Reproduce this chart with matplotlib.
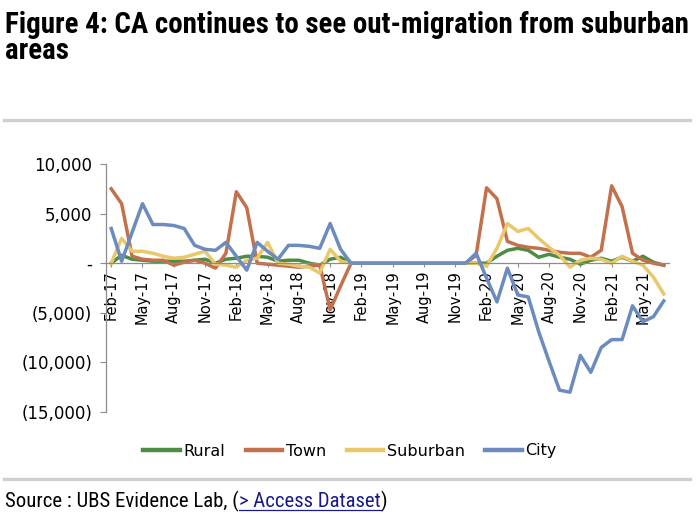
import matplotlib.pyplot as plt
from matplotlib.ticker import FuncFormatter
from matplotlib.lines import Line2D
from matplotlib import font_manager
import numpy as np

# monthly net migration, Feb-17 .. Jul-21
rural = [0, 800, 400, 300, 200, 200, 200, 200, 300, 400, 0, 400,
         500, 700, 700, 600, 200, 300, 300, 0, -200, 400, 600, 0,
         0, 0, 0, 0, 0, 0, 0, 0, 0, 0, 0, 0,
         0, 700, 1300, 1500, 1300, 600, 900, 600, 400, -100, 300, 500,
         200, 600, 200, 700, 100, -200]
town = [7500, 6000, 700, 400, 300, 300, -200, 100, 300, 0, -500, 1000,
        7200, 5600, 0, -100, -200, -300, -400, -300, -200, -4700, -2300, 0,
        0, 0, 0, 0, 0, 0, 0, 0, 0, 0, 0, 800,
        7600, 6500, 2200, 1800, 1600, 1500, 1300, 1100, 1000, 1000, 600, 1300,
        7800, 5700, 1000, 300, 0, -200]
suburban = [0, 2500, 1200, 1200, 1000, 700, 500, 600, 900, 1200, -100, -200,
            -400, 300, 500, 2100, 0, -100, -300, -400, -1000, 1400, 200, 0,
            0, 0, 0, 0, 0, 0, 0, 0, 0, 0, 0, 0,
            -300, 1500, 4000, 3200, 3500, 2500, 1600, 800, -400, 300, 500, 400,
            0, 700, 200, -200, -1400, -3100]
city = [3500, 200, 3100, 6000, 3900, 3900, 3800, 3500, 1800, 1400, 1300, 2100,
        700, -700, 2100, 1200, 400, 1800, 1800, 1700, 1500, 4000, 1400, 0,
        0, 0, 0, 0, 0, 0, 0, 0, 0, 0, 0, 1000,
        -1500, -3900, -500, -3200, -3400, -6900, -9900, -12800, -13000, -9300, -11000, -8500,
        -7700, -7700, -4300, -5900, -5400, -3800]
tick_labels = ["Feb-17", "May-17", "Aug-17", "Nov-17", "Feb-18", "May-18",
               "Aug-18", "Nov-18", "Feb-19", "May-19", "Aug-19", "Nov-19",
               "Feb-20", "May-20", "Aug-20", "Nov-20", "Feb-21", "May-21"]

# pick a narrow font for title / source if one is installed
names = {f.name for f in font_manager.fontManager.ttflist}
narrow = "Liberation Sans"
for n in ["Roboto Condensed", "Liberation Sans Narrow", "Open Sans Condensed"]:
    if n in names:
        narrow = n
        break

W, H = 700, 525
fig = plt.figure(figsize=(7, 5.25), dpi=100)
ax = fig.add_axes([106 / W, 1 - 412 / H, 563 / W, 248 / H])

x = np.arange(len(city))
ax.plot(x, rural, color="#4E8B45", lw=2.5, label="Rural")
ax.plot(x, town, color="#C3704D", lw=2.5, label="Town")
ax.plot(x, suburban, color="#E8C86A", lw=2.5, label="Suburban")
ax.plot(x, city, color="#6C8BBE", lw=2.5, label="City")

ax.set_xlim(-0.5, len(city) - 0.5)
ax.set_ylim(-15000, 10000)

for s in ["top", "right"]:
    ax.spines[s].set_visible(False)
ax.spines["bottom"].set_position(("data", 0))
for s in ["left", "bottom"]:
    ax.spines[s].set_color("#8c8c8c")
    ax.spines[s].set_linewidth(0.9)


def fmt(v, pos):
    if v == 0:
        return "-"
    if v < 0:
        return "({:,.0f})".format(-v)
    return "{:,.0f}".format(v)


ax.set_yticks(np.arange(-15000, 10001, 5000))
ax.yaxis.set_major_formatter(FuncFormatter(fmt))
ax.set_xticks(np.arange(0, len(city), 3))
ax.set_xticklabels(tick_labels)
ax.tick_params(axis="y", labelsize=12, length=4, color="#8c8c8c", pad=6)
ax.tick_params(axis="x", labelsize=10.5, length=3, color="#8c8c8c", pad=2,
               labelrotation=90)
ax.set_facecolor("none")

leg = fig.legend(loc="center", bbox_to_anchor=(0.5, 1 - 451 / H), ncol=4, frameon=False,
                 fontsize=11.5, handlelength=2.3, handletextpad=0.2, columnspacing=1.3)
for h in leg.get_lines():
    h.set_linewidth(3.2)

fig.canvas.draw()
r = fig.canvas.get_renderer()

# title, scaled to span the same width as the reference
t1 = fig.text(5 / W, 1 - 33 / H, "Figure 4: CA continues to see out-migration from suburban",
              fontsize=16, fontweight="bold", family=narrow, va="baseline")
size = 16 * 685 / t1.get_window_extent(r).width
t1.set_fontsize(size)
fig.text(5 / W, 1 - 59 / H, "areas", fontsize=size, fontweight="bold",
         family=narrow, va="baseline")

# horizontal rules
for yy in [120, 479]:
    fig.add_artist(Line2D([4 / W, 690 / W], [1 - yy / H] * 2, color="#cfcfcf",
                          lw=2.4, transform=fig.transFigure))

# source line
probe = fig.text(0, 0, "Source : UBS Evidence Lab, (> Access Dataset)", fontsize=13,
                 family=narrow)
ssize = 13 * 380 / probe.get_window_extent(r).width
probe.remove()
src = fig.text(5 / W, 1 - 507 / H, "Source : UBS Evidence Lab, (", fontsize=ssize,
               family=narrow, va="baseline")
bb = src.get_window_extent(r)
link = fig.text(bb.x1 / W, 1 - 507 / H, "> Access Dataset", fontsize=ssize,
                family=narrow, va="baseline", color="#1a1a8c")
bb2 = link.get_window_extent(r)
fig.text(bb2.x1 / W, 1 - 507 / H, ")", fontsize=ssize, family=narrow, va="baseline")
fig.add_artist(Line2D([bb2.x0 / W, bb2.x1 / W], [1 - 510 / H] * 2, color="#1a1a8c",
                      lw=0.9, transform=fig.transFigure))

fig.savefig("out.png", dpi=100)
